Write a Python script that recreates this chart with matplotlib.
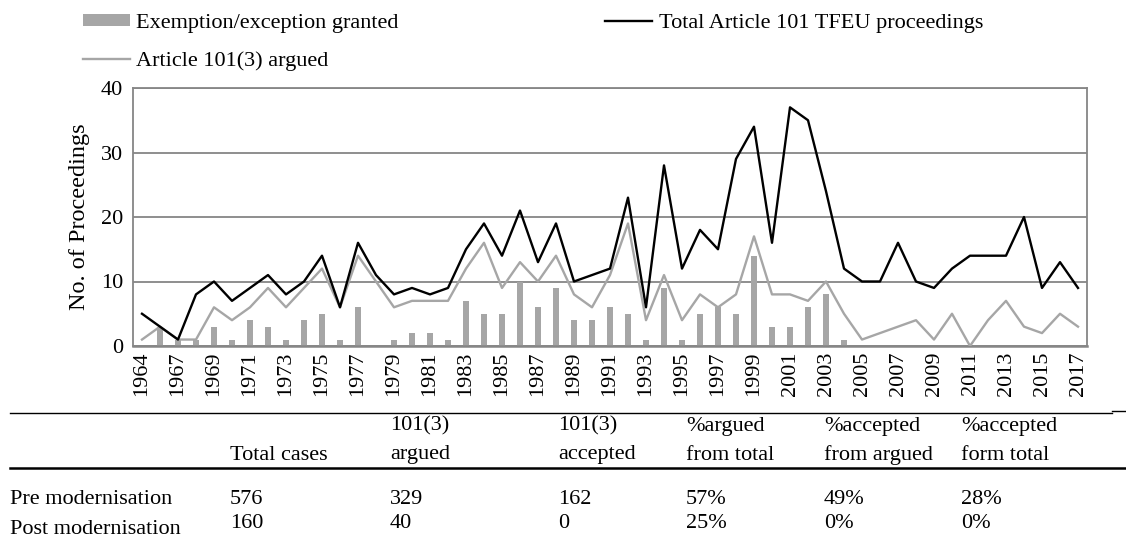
import numpy as np
import matplotlib
matplotlib.use("Agg")
import matplotlib.pyplot as plt
from matplotlib.lines import Line2D

plt.rcParams['font.family'] = ['Liberation Serif', 'DejaVu Serif']

# category years (1965 is not in the series)
years = [1964, 1966, 1967, 1968, 1969, 1970, 1971, 1972, 1973, 1974, 1975,
         1976, 1977, 1978, 1979, 1980, 1981, 1982, 1983, 1984, 1985, 1986,
         1987, 1988, 1989, 1990, 1991, 1992, 1993, 1994, 1995, 1996, 1997,
         1998, 1999, 2000, 2001, 2002, 2003, 2004, 2005, 2006, 2007, 2008,
         2009, 2010, 2011, 2012, 2013, 2014, 2015, 2016, 2017]
total = [5, 3, 1, 8, 10, 7, 9, 11, 8, 10, 14, 6, 16, 11, 8, 9, 8, 9, 15, 19,
         14, 21, 13, 19, 10, 11, 12, 23, 6, 28, 12, 18, 15, 29, 34, 16, 37, 35,
         24, 12, 10, 10, 16, 10, 9, 12, 14, 14, 14, 20, 9, 13, 9]
argued = [1, 3, 1, 1, 6, 4, 6, 9, 6, 9, 12, 6, 14, 10, 6, 7, 7, 7, 12, 16,
          9, 13, 10, 14, 8, 6, 11, 19, 4, 11, 4, 8, 6, 8, 17, 8, 8, 7, 10, 5,
          1, 2, 3, 4, 1, 5, 0, 4, 7, 3, 2, 5, 3]
granted = [0, 3, 1, 1, 3, 1, 4, 3, 1, 4, 5, 1, 6, 0, 1, 2, 2, 1, 7, 5,
           5, 10, 6, 9, 4, 4, 6, 5, 1, 9, 1, 5, 6, 5, 14, 3, 3, 6, 8, 1,
           0, 0, 0, 0, 0, 0, 0, 0, 0, 0, 0, 0, 0]

col_heads = [("", "Total cases"), ("101(3)", "argued"), ("101(3)", "accepted"),
             ("%argued", "from total"), ("%accepted", "from argued"),
             ("%accepted", "form total")]
row_names = ["Pre modernisation", "Post modernisation"]
pre_row = ["576", "329", "162", "57%", "49%", "28%"]
post_row = ["160", "40", "0", "25%", "0%", "0%"]

W, H = 1126, 543
fig = plt.figure(figsize=(W / 100, H / 100), dpi=100)

def fx(px):
    return px / W

def fy(py):
    return 1 - py / H

L, R, T, B = 133, 1087, 88, 346
ax = fig.add_axes([fx(L), fy(B), fx(R - L), (B - T) / H])

fs = 16
x = np.arange(len(years))
grey = '#A6A6A6'
gridc = '#868686'
bars = ax.bar(x, granted, width=0.38, color=grey, zorder=2)
l_tot, = ax.plot(x, total, color='black', lw=1.7, zorder=4)
l_arg, = ax.plot(x, argued, color=grey, lw=1.7, zorder=3)

ax.set_xlim(-0.5, len(years) - 0.5)
ax.set_ylim(0, 40)
ax.set_yticks([0, 10, 20, 30, 40])
ax.yaxis.grid(True, color=gridc, lw=1.3)
ax.set_axisbelow(True)
for s in ax.spines.values():
    s.set_color(gridc)
    s.set_linewidth(1.3)
ax.spines['bottom'].set_linewidth(1.8)
ax.tick_params(axis='both', length=0, labelsize=fs, colors='black')
ax.tick_params(axis='y', pad=7)
ax.set_xticks(x[::2])
ax.set_xticklabels([str(y) for y in years[::2]], rotation=90)
ax.tick_params(axis='x', pad=4)
ax.set_ylabel("No. of Proceedings", fontsize=17.5, labelpad=8)

fig.legend([bars, l_arg, l_tot],
           ["Exemption/exception granted", "Article 101(3) argued",
            "Total Article 101 TFEU proceedings"],
           ncol=2, loc='upper left', bbox_to_anchor=(fx(83), fy(14)),
           borderaxespad=0, borderpad=0,
           frameon=False, fontsize=fs, handlelength=2.1,
           handleheight=0.4, handletextpad=0.3, labelspacing=0.8,
           columnspacing=9.3)

# table below the chart
fig.add_artist(Line2D([fx(10), fx(1112)], [fy(413), fy(413)], color='black', lw=1.0))
fig.add_artist(Line2D([fx(1112), fx(1126)], [fy(411), fy(411)], color='black', lw=1.0))
fig.add_artist(Line2D([fx(10), fx(1126)], [fy(468), fy(468)], color='black', lw=1.8))

col_x = [230, 390, 558, 686, 824, 961]
for cx, (h1, h2) in zip(col_x, col_heads):
    if h1:
        fig.text(fx(cx), fy(426), h1, fontsize=fs, va='center', ha='left')
    fig.text(fx(cx), fy(455), h2, fontsize=fs, va='center', ha='left')

fig.text(fx(10), fy(500), row_names[0], fontsize=fs, va='center', ha='left')
fig.text(fx(10), fy(530), row_names[1], fontsize=fs, va='center', ha='left')
for cx, v in zip(col_x, pre_row):
    fig.text(fx(cx), fy(500), v, fontsize=fs, va='center', ha='left')
for cx, v in zip(col_x, post_row):
    fig.text(fx(cx), fy(524), v, fontsize=fs, va='center', ha='left')

fig.savefig("out.png", dpi=100)
